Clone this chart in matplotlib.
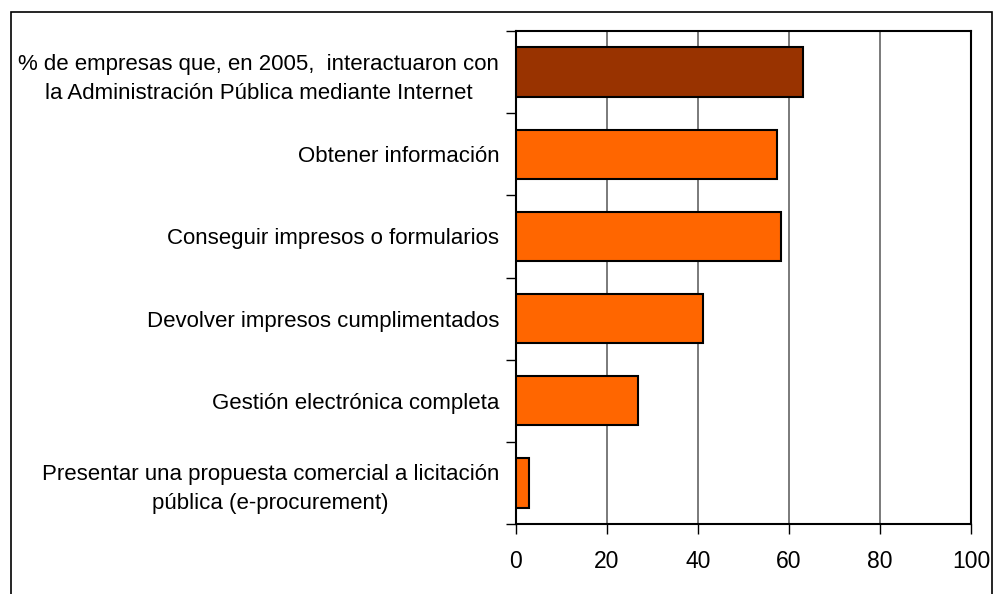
import matplotlib.pyplot as plt
from matplotlib.patches import Rectangle

plt.rcParams["font.family"] = ["Liberation Sans", "DejaVu Sans"]

categories = [
    "% de empresas que, en 2005,  interactuaron con\nla Administración Pública mediante Internet",
    "Obtener información",
    "Conseguir impresos o formularios",
    "Devolver impresos cumplimentados",
    "Gestión electrónica completa",
    "Presentar una propuesta comercial a licitación\npública (e-procurement)",
]
values = [63.0, 57.4, 58.2, 41.2, 26.8, 2.9]
bar_colors = ["#993300", "#FF6600", "#FF6600", "#FF6600", "#FF6600", "#FF6600"]
x_ticks = [0, 20, 40, 60, 80, 100]

fig = plt.figure(figsize=(9.94, 5.94), dpi=100)
ax = fig.add_axes([516 / 994, 1 - 524 / 594, 455 / 994, 493 / 594])

# Outer frame (bottom edge falls outside the picture)
fig.patches.append(Rectangle((11 / 994, -0.05), 981 / 994, 1 - 12 / 594 + 0.05,
                             transform=fig.transFigure, fill=False,
                             edgecolor="black", linewidth=1.2))

pos = list(range(len(categories)))
ax.barh(pos, values, height=0.6, color=bar_colors, edgecolor="black",
        linewidth=1.5, zorder=3)

ax.set_xlim(0, 100)
ax.set_ylim(len(categories) - 0.5, -0.5)

# Grid
ax.set_xticks(x_ticks)
ax.xaxis.grid(True, color="#707070", linewidth=1.3, zorder=0)
ax.tick_params(axis="x", direction="out", length=7, width=1, pad=12, labelsize=16.5)

# Category ticks at boundaries, labels at centres
ax.set_yticks([p - 0.5 for p in pos] + [len(categories) - 0.5])
ax.set_yticklabels([])
ax.set_yticks(pos, minor=True)
ax.set_yticklabels(categories, minor=True, fontsize=16, ha="right",
                   multialignment="center", linespacing=1.5)
ax.tick_params(axis="y", which="major", direction="out", length=7, width=1)
ax.tick_params(axis="y", which="minor", length=0, pad=12)

for s in ax.spines.values():
    s.set_linewidth(1.5)

plt.savefig("out.png", dpi=100)
